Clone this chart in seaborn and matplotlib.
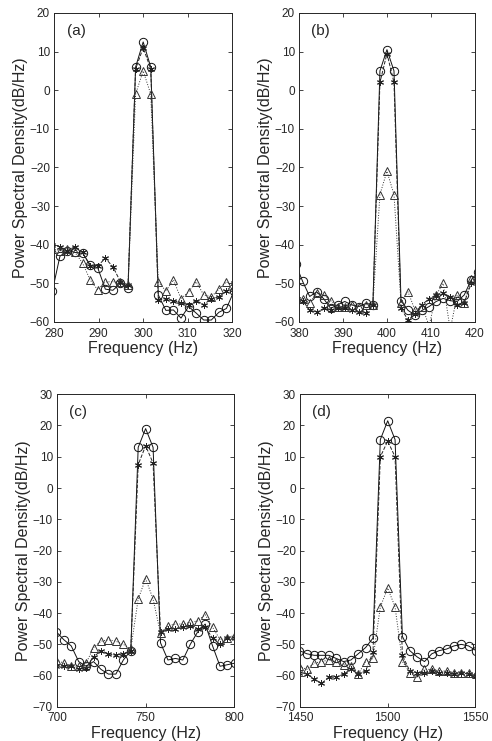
import numpy as np
import pandas as pd
import matplotlib
matplotlib.use('Agg')
import matplotlib.pyplot as plt
import seaborn as sns

# frequency bins (Hz) for each panel
freq_a = [279.6, 281.3, 283.0, 284.7, 286.4, 288.1, 289.8, 291.5, 293.2, 294.9, 296.6, 298.3, 300.0,
          301.7, 303.4, 305.1, 306.8, 308.5, 310.2, 311.9, 313.6, 315.3, 317.0, 318.7, 320.4]
freq_b = [379.2, 380.8, 382.4, 384.0, 385.6, 387.2, 388.8, 390.4, 392.0, 393.6, 395.2, 396.8, 398.4, 400.0,
          401.6, 403.2, 404.8, 406.4, 408.0, 409.6, 411.2, 412.8, 414.4, 416.0, 417.6, 419.2, 420.8]
freq_c = [699.6, 703.8, 708.0, 712.2, 716.4, 720.6, 724.8, 729.0, 733.2, 737.4, 741.6, 745.8, 750.0,
          754.2, 758.4, 762.6, 766.8, 771.0, 775.2, 779.4, 783.6, 787.8, 792.0, 796.2, 800.4]
freq_d = [1449.6, 1453.8, 1458.0, 1462.2, 1466.4, 1470.6, 1474.8, 1479.0, 1483.2, 1487.4, 1491.6, 1495.8, 1500.0,
          1504.2, 1508.4, 1512.6, 1516.8, 1521.0, 1525.2, 1529.4, 1533.6, 1537.8, 1542.0, 1546.2, 1550.4]

# PSD (dB/Hz) - circle / star / triangle series
circ_a = [-52, -43, -41.5, -42, -42.2, -45.2, -46, -51.5, -51.8, -50, -51.3, 6, 12.5,
          6, -53, -57, -56.9, -59, -56, -57.7, -59.5, -59.5, -57.5, -56.5, -52]
star_a = [-40, -40.5, -41.5, -40.5, -42, -45.5, -45.5, -43.5, -45.7, -49.6, -50.5, 5.5, 11,
          5.5, -54.3, -54, -54.5, -55, -55.6, -54.5, -55.5, -54, -53.5, -52, -50]
tri_a = [-41, -41.5, -41, -42, -44.8, -49.1, -51.7, -49.6, -49.6, -49.6, -50.5, -1, 5,
         -1, -49.6, -52, -49.1, -54, -52.2, -49.6, -53, -53.5, -51.5, -49.6, -51]

circ_b = [-45, -49.5, -53.4, -52.2, -54, -56.5, -55.5, -54.7, -55.6, -56, -55.2, -55.5, 5, 10.5,
          5, -54.5, -57, -58.2, -57, -56, -54.7, -53.9, -54.5, -54.7, -53, -49.1, -47]
star_b = [-54, -54.5, -56.9, -57.5, -56.5, -57, -56.5, -56.5, -57, -57.5, -57.8, -55.5, 2, 9.5,
          2, -56.5, -59.5, -58, -55.5, -54, -53, -52.5, -53.5, -55.5, -55, -50, -48]
tri_b = [-53, -54, -55, -52.6, -53, -54.5, -56, -56, -55.5, -56, -55.5, -55.5, -27, -21,
         -27, -55, -52.2, -57, -56, -61, -53, -50, -62, -53, -55, -49, -48]

circ_c = [-46, -48.5, -50.5, -55.5, -57, -55.5, -58, -59.5, -59.5, -55, -52, 13, 19,
          13, -49.5, -55, -54.5, -55, -50, -46, -43.5, -50.5, -57, -56.5, -56]
star_c = [-57, -57, -57, -58, -57.5, -54, -52, -53, -53.5, -53, -52, 7.5, 13.5,
          8, -46, -45, -45, -44.5, -44, -45, -44.5, -48, -50, -48, -48]
tri_c = [-55, -56, -57, -57, -56, -51, -49, -48.5, -49, -50, -51.5, -35.5, -29,
         -35.5, -46.5, -44, -43.5, -43.5, -43, -42.5, -40.5, -44.5, -48.5, -48, -47]

circ_d = [-52, -53, -53.5, -53.5, -53.5, -54.5, -55.5, -55, -53, -51, -48, 15.5, 21.5,
          15.5, -47.5, -52, -54, -55.5, -53, -52, -51.5, -50.5, -50, -50.5, -52]
star_d = [-59, -59.5, -61, -62.5, -60.5, -60.5, -59.5, -58, -59.5, -58.5, -52.5, 10, 15,
          10, -53.5, -58.5, -59, -59, -58.5, -59, -59, -59.5, -59, -59.5, -60]
tri_d = [-57, -58, -56, -55.5, -55, -55.5, -56.5, -57, -59.5, -55.5, -54.5, -38, -32,
         -38, -55.5, -59, -60.5, -58, -58, -58.5, -58.5, -59, -59, -59, -59.5]

panels = [
    ('(a)', freq_a, circ_a, star_a, tri_a, (280, 320), [280, 290, 300, 310, 320], (-60, 20)),
    ('(b)', freq_b, circ_b, star_b, tri_b, (380, 420), [380, 390, 400, 410, 420], (-60, 20)),
    ('(c)', freq_c, circ_c, star_c, tri_c, (700, 800), [700, 750, 800], (-70, 30)),
    ('(d)', freq_d, circ_d, star_d, tri_d, (1450, 1550), [1450, 1500, 1550], (-70, 30)),
]

# axes rectangles in figure fractions
rects = [
    [0.110, 0.5655, 0.362, 0.417],
    [0.608, 0.5655, 0.357, 0.417],
    [0.116, 0.046, 0.360, 0.422],
    [0.610, 0.046, 0.356, 0.422],
]

sns.set_style('ticks')
plt.rcParams['font.family'] = ['Liberation Sans', 'DejaVu Sans']

fig = plt.figure(figsize=(4.92, 7.41), dpi=100)

# marker / line style per series
series_styles = [
    ('circle', 'o', '-', '#111111', 6),
    ('star', (6, 2, 0), '--', '#222222', 5),
    ('triangle', '^', ':', '#333333', 6),
]

for rect, (tag, freq, circ, star, tri, xlim, xticks, ylim) in zip(rects, panels):
    ax = fig.add_axes(rect)
    df = pd.DataFrame({'freq': freq, 'circle': circ, 'star': star, 'triangle': tri})
    for name, mk, ls, col, ms in series_styles:
        sns.lineplot(data=df, x='freq', y=name, ax=ax, color=col, linestyle=ls,
                     linewidth=0.7, marker=mk, markersize=ms, mfc='none', mec=col,
                     mew=0.7, estimator=None, sort=False)
    ax.set_xlim(*xlim)
    ax.set_ylim(*ylim)
    ax.set_xticks(xticks)
    ax.set_yticks(np.arange(ylim[0], ylim[1] + 1, 10))
    ax.tick_params(direction='in', top=True, right=True, labelsize=8.5, length=3, width=0.6)
    ax.tick_params(axis='x', pad=4)
    ax.tick_params(axis='y', pad=3)
    for sp in ax.spines.values():
        sp.set_linewidth(0.7)
        sp.set_visible(True)
    ax.set_xlabel('Frequency (Hz)', fontsize=11.5, labelpad=1)
    ax.set_ylabel('Power Spectral Density(dB/Hz)', fontsize=11.5, labelpad=1)
    ax.text(0.07, 0.93, tag, transform=ax.transAxes, fontsize=11)

fig.savefig('out.png', dpi=100)
